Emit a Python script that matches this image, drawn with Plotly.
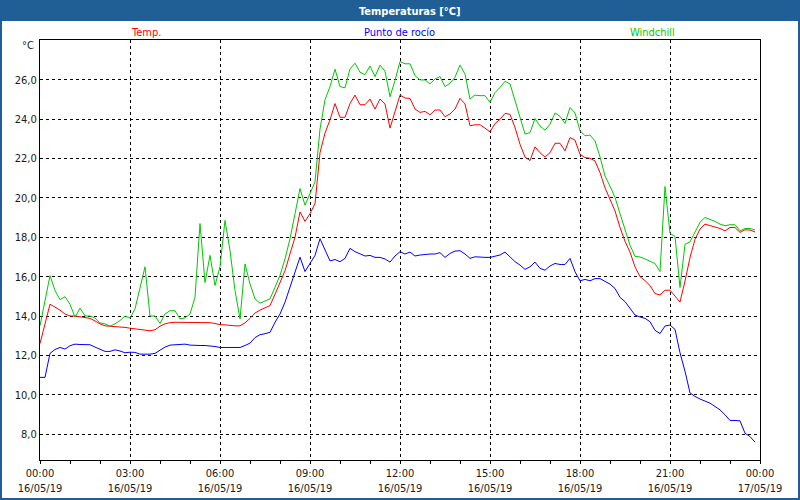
import plotly.graph_objects as go
import pandas as pd

# 10-minute samples starting 16/05/19 00:00
start_time = "2019-05-16 00:00"
step_minutes = 10

temp = [12.6, 13.6, 14.6, 14.45, 14.3, 14.1, 14.0, 14.0, 13.97, 13.92, 13.88, 13.75, 13.6, 13.5, 13.48, 13.48,
        13.45, 13.42, 13.38, 13.35, 13.33, 13.28, 13.25, 13.3, 13.48, 13.6, 13.66, 13.68, 13.68, 13.68, 13.68,
        13.68, 13.67, 13.66, 13.66, 13.62, 13.56, 13.55, 13.52, 13.5, 13.5, 13.65, 13.88, 14.15, 14.3, 14.4,
        14.53, 15.1, 15.7, 16.3, 17.16, 18.0, 19.29, 18.81, 19.2, 19.71, 22.3, 23.3, 23.97, 24.8, 24.1, 24.1,
        24.8, 25.23, 24.74, 24.74, 25.03, 24.52, 25.03, 24.78, 23.55, 24.35, 25.23, 25.08, 25.06, 24.52, 24.35,
        24.4, 24.23, 24.47, 24.47, 24.13, 24.27, 24.52, 25.06, 24.78, 23.67, 23.72, 23.72, 23.55, 23.36, 23.78,
        24.0, 24.3, 24.25, 23.58, 22.73, 22.08, 21.9, 22.6, 22.3, 22.08, 22.3, 22.78, 22.78, 22.4, 23.07, 22.94,
        22.22, 22.05, 22.02, 21.88, 21.29, 20.52, 19.93, 19.34, 18.5, 17.8, 17.25, 16.5, 16.0, 15.8, 15.55,
        15.14, 15.07, 15.31, 15.31, 15.02, 14.71, 15.78, 16.97, 17.9, 18.42, 18.67, 18.59, 18.5, 18.45, 18.33,
        18.5, 18.5, 18.25, 18.38, 18.37, 18.27]

dew_point = [10.88, 10.88, 12.1, 12.3, 12.4, 12.32, 12.49, 12.57, 12.55, 12.54, 12.54, 12.42, 12.3, 12.2, 12.2,
             12.28, 12.22, 12.13, 12.16, 12.15, 12.06, 12.05, 12.06, 12.1, 12.28, 12.42, 12.52, 12.54, 12.57,
             12.57, 12.52, 12.5, 12.5, 12.5, 12.48, 12.45, 12.4, 12.4, 12.4, 12.4, 12.4, 12.5, 12.62, 12.9,
             13.05, 13.1, 13.17, 13.68, 14.1, 14.7, 15.46, 16.23, 16.99, 16.26, 16.65, 17.08, 17.93, 17.33, 16.8,
             16.87, 16.76, 16.93, 17.44, 17.27, 17.15, 17.05, 17.08, 16.98, 16.98, 16.9, 16.74, 17.05, 17.27,
             17.15, 17.25, 17.05, 17.1, 17.13, 17.15, 17.15, 17.22, 16.98, 17.18, 17.3, 17.32, 17.15, 16.93,
             17.01, 16.98, 16.98, 16.98, 17.05, 17.1, 17.25, 16.98, 16.76, 16.59, 16.37, 16.5, 16.74, 16.42,
             16.33, 16.54, 16.67, 16.62, 16.62, 16.93, 16.25, 15.79, 15.86, 15.79, 15.9, 15.9, 15.74, 15.62,
             15.4, 14.95, 14.73, 14.37, 14.05, 13.95, 13.88, 13.71, 13.27, 13.11, 13.49, 13.54, 13.32, 12.13,
             11.19, 10.09, 9.91, 9.78, 9.66, 9.57, 9.4, 9.23, 8.98, 8.69, 8.69, 8.67, 8.04, 7.87, 7.59]

windchill = [13.5, 14.8, 16.05, 15.3, 14.83, 14.98, 14.6, 13.93, 14.4, 14.0, 14.0, 13.9, 13.65, 13.6, 13.48,
             13.6, 13.77, 14.0, 13.9, 14.36, 15.46, 16.5, 14.0, 14.0, 13.62, 14.1, 14.27, 14.27, 13.85, 13.9,
             14.1, 14.95, 18.7, 15.7, 17.08, 15.55, 16.5, 18.86, 17.33, 15.29, 13.85, 16.65, 15.63, 14.87,
             14.65, 14.75, 14.87, 15.46, 16.06, 16.9, 17.93, 19.2, 20.48, 19.63, 20.22, 20.82, 23.5, 24.99,
             25.66, 26.55, 25.66, 25.6, 26.56, 26.85, 26.39, 26.27, 26.71, 26.17, 26.75, 26.44, 25.15, 25.97,
             26.94, 26.82, 26.82, 26.22, 26.0, 26.0, 25.8, 26.05, 26.17, 25.66, 25.83, 26.14, 26.75, 26.3,
             25.03, 25.23, 25.2, 25.2, 24.86, 25.35, 25.62, 25.93, 25.8, 24.95, 24.0, 23.25, 23.32, 24.04,
             23.66, 23.44, 23.75, 24.32, 24.15, 23.79, 24.6, 24.32, 23.42, 23.16, 23.2, 22.9, 22.09, 21.12,
             20.6, 20.03, 19.2, 18.4, 17.6, 17.03, 17.0, 16.9, 16.8, 16.67, 16.26, 20.58, 18.2, 18.05, 15.45,
             17.64, 17.77, 18.25, 18.76, 19.01, 18.93, 18.81, 18.67, 18.59, 18.64, 18.64, 18.33, 18.45, 18.45,
             18.37]

x_tick_dates = ["2019-05-16 00:00", "2019-05-16 03:00", "2019-05-16 06:00", "2019-05-16 09:00",
                "2019-05-16 12:00", "2019-05-16 15:00", "2019-05-16 18:00", "2019-05-16 21:00",
                "2019-05-17 00:00"]
x_tick_labels = ["00:00<br>16/05/19", "03:00<br>16/05/19", "06:00<br>16/05/19", "09:00<br>16/05/19",
                 "12:00<br>16/05/19", "15:00<br>16/05/19", "18:00<br>16/05/19", "21:00<br>16/05/19",
                 "00:00<br>17/05/19"]
y_ticks = [8, 10, 12, 14, 16, 18, 20, 22, 24, 26]

times = pd.date_range(start_time, periods=len(temp), freq=f"{step_minutes}min")

FONT = "DejaVu Sans Condensed, Liberation Sans, sans-serif"
BLUE_BAR = "#1F5F96"
TEXT = "#1a1a1a"

fig = go.Figure()
fig.add_trace(go.Scatter(x=times, y=temp, mode="lines", line=dict(color="#FF0000", width=1), name="Temp."))
fig.add_trace(go.Scatter(x=times, y=dew_point, mode="lines", line=dict(color="#0000FF", width=1),
                         name="Punto de rocío"))
fig.add_trace(go.Scatter(x=times, y=windchill, mode="lines", line=dict(color="#00C800", width=1),
                         name="Windchill"))

fig.update_layout(
    width=800, height=500, autosize=False,
    margin=dict(l=40, r=40, t=40, b=40, pad=0),
    paper_bgcolor="white", plot_bgcolor="white",
    showlegend=False,
    separators=",.",
    hovermode=False,
    font=dict(family=FONT, size=11, color=TEXT),
)

fig.update_xaxes(
    range=[x_tick_dates[0], x_tick_dates[-1]],
    tickmode="array", tickvals=x_tick_dates, ticktext=x_tick_labels,
    ticks="outside", ticklen=3, tickcolor="black",
    showline=True, linecolor="black", linewidth=1, mirror=True,
    showgrid=True, gridcolor="black", gridwidth=1, griddash="3px,3px",
    minor=dict(dtick=3600000, tick0=x_tick_dates[0], ticks="outside", ticklen=3, tickcolor="black",
               showgrid=False),
    zeroline=False, automargin=False,
)
fig.update_yaxes(
    range=[6.68, 28.03],
    tickmode="array", tickvals=y_ticks, tickformat=".1f",
    ticks="", showline=True, linecolor="black", linewidth=1, mirror=True,
    showgrid=True, gridcolor="black", gridwidth=1, griddash="3px,3px",
    zeroline=False, automargin=False,
)

# paper coordinate helpers (plot area: x 40..760, y 40..460 px)
def px_x(px):
    return (px - 40) / 720.0

def px_y(py):
    return (460 - py) / 420.0

# title bar
fig.add_shape(type="rect", xref="paper", yref="paper", x0=px_x(0), x1=px_x(800), y0=px_y(21), y1=px_y(0),
              fillcolor=BLUE_BAR, line=dict(width=0), layer="below")
# outer border
fig.add_shape(type="rect", xref="paper", yref="paper", x0=px_x(1), x1=px_x(799), y0=px_y(499), y1=px_y(1),
              fillcolor="rgba(0,0,0,0)", line=dict(color=BLUE_BAR, width=2))

fig.add_annotation(xref="paper", yref="paper", x=px_x(410), y=px_y(11), text="<b>Temperaturas [°C]</b>",
                   showarrow=False, xanchor="center", yanchor="middle",
                   font=dict(family=FONT, size=11, color="white"))
legend_items = [("Temp.", "#FF0000", 146), ("Punto de rocío", "#0000FF", 399), ("Windchill", "#00C800", 652)]
for label, color, cx in legend_items:
    fig.add_annotation(xref="paper", yref="paper", x=px_x(cx), y=px_y(32), text=label, showarrow=False,
                       xanchor="center", yanchor="middle", font=dict(family=FONT, size=11, color=color))
fig.add_annotation(xref="paper", yref="paper", x=px_x(36), y=px_y(46), text="°C", showarrow=False,
                   xanchor="right", yanchor="middle", font=dict(family=FONT, size=11, color=TEXT))

fig.write_html("out.html", config={"responsive": False, "displayModeBar": False},
               post_script="document.body.style.margin='0';document.body.style.overflow='hidden';")
